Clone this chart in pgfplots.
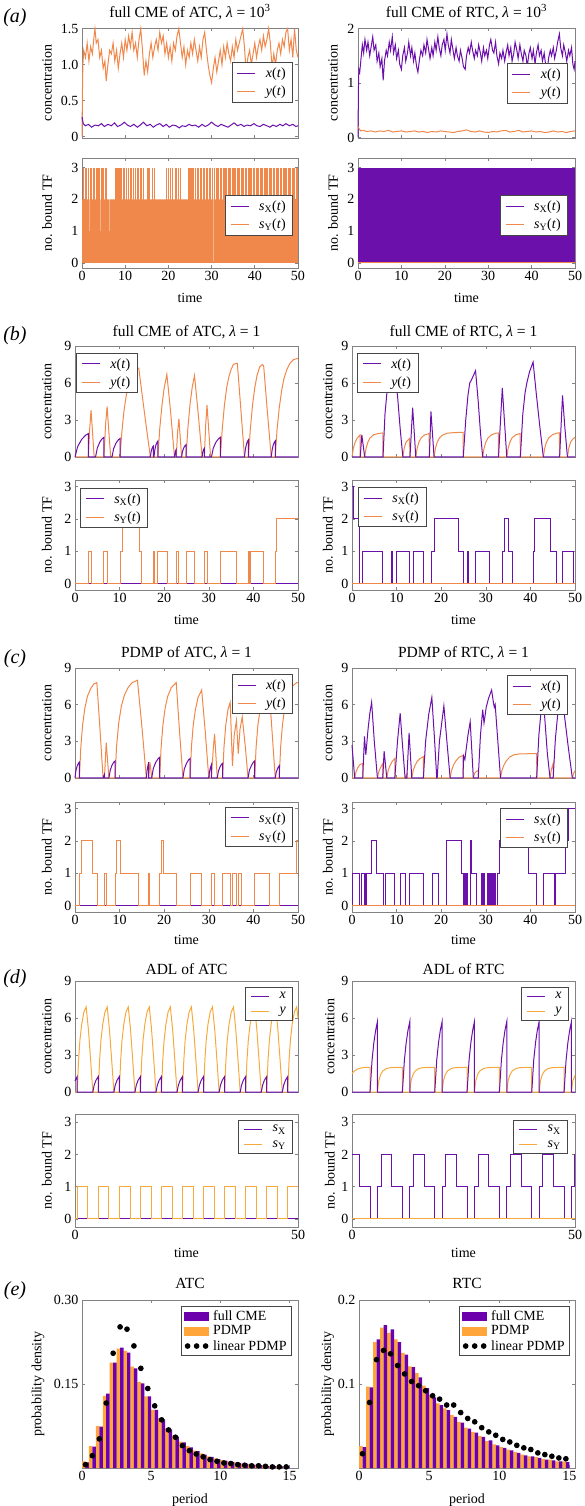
\documentclass[border=0pt]{standalone}
\usepackage{fontspec}
\setmainfont{Liberation Serif}
\usepackage{pgfplots}
\pgfplotsset{compat=1.18}
\definecolor{cpurple}{RGB}{108,16,172}
\definecolor{corange}{RGB}{240,135,75}
\definecolor{corangeb}{RGB}{246,170,62}
\definecolor{hpurple}{RGB}{108,0,172}
\definecolor{horange}{RGB}{255,165,58}
\definecolor{framegray}{RGB}{130,130,130}
\definecolor{leggray}{RGB}{70,70,70}
\pgfplotsset{
  base/.style={scale only axis, anchor=north west, clip=false,
    axis line style={draw=framegray, line width=0.8pt},
    tick style={draw=framegray, line width=0.6pt},
    major tick length=3pt,
    tick label style={font=\fontsize{14}{16}\selectfont},
    title style={font=\fontsize{15.5}{18}\selectfont},
    legend style={font=\fontsize{14}{16}\selectfont, draw=leggray, line width=0.7pt, fill=white, inner xsep=5pt, inner ysep=3pt, row sep=3pt,
      /tikz/every odd column/.append style={column sep=8pt}},
    legend cell align=left,
    legend image code/.code={\draw[##1] (0pt,0pt) -- (18pt,0pt);},
    /pgf/number format/assume math mode=true,
    every axis plot/.append style={line width=1pt},
  },
  yl/.style={every axis y label/.style={at={(axis description cs:#1,0.5)},rotate=90,anchor=center,font=\fontsize{14}{16}\selectfont}},
  xl/.style={every axis x label/.style={at={(axis description cs:0.5,#1)},anchor=center,font=\fontsize{14}{16}\selectfont}},
  tstop/.style={base, xmin=0, xmax=50, xtick={0,10,20,30,40,50}, xticklabels={}, ylabel={concentration}},
  tsbot/.style={base, xmin=0, xmax=50, xtick={0,10,20,30,40,50}, ylabel={no. bound TF}, xlabel={time}, ytick={0,1,2,3}},
}
\newcommand{\xt}{\textit{x}(\textit{t})}
\newcommand{\yt}{\textit{y}(\textit{t})}
\newcommand{\sxt}{\textit{s}\textsubscript{X}(\textit{t})}
\newcommand{\syt}{\textit{s}\textsubscript{Y}(\textit{t})}
\newcommand{\LP}{\addlegendimage{draw=cpurple, line width=1pt}}
\newcommand{\LO}{\addlegendimage{draw=corange, line width=1pt}}
\newcommand{\LOb}{\addlegendimage{draw=corangeb, line width=1pt}}
\begin{document}
\begin{tikzpicture}
% ================= (a) =================
\begin{axis}[tstop, at={(82pt,-28pt)}, width=216pt, height=110pt, ymin=-0.02, ymax=1.51,
  ytick={0,0.5,1,1.5}, yticklabels={0,0.5,1.0,1.5}, yl=-0.162,
  title={full CME of ATC, \textit{λ} = 10\textsuperscript{3}}, title style={yshift=-1pt},
  legend style={at={(0.977,0.69)},anchor=north east}]
\addplot[corange, forget plot] coordinates {(0,0)(0.1,0.6)(0.2,1.0)(0.4,1.2)(0.8,1.1)(1.2,1.3)(1.6,1.05)(2.0,1.25)(2.4,1.15)(2.8,1.4)(3.0,1.5)(3.3,1.3)(3.7,1.35)(4.1,1.1)(4.5,1.2)(4.9,0.95)(5.3,1.05)(5.6,0.77)(6.0,1.0)(6.4,1.2)(6.8,1.15)(7.2,1.3)(7.6,1.05)(8.0,1.2)(8.4,0.95)(8.8,1.15)(9.2,1.3)(9.6,1.1)(10.0,1.35)(10.4,1.2)(10.8,1.4)(11.2,1.25)(11.6,1.45)(12.0,1.2)(12.4,1.3)(12.8,1.1)(13.2,1.35)(13.6,1.5)(14.0,1.2)(14.4,0.85)(14.8,1.05)(15.2,0.9)(15.6,1.15)(16.0,1.3)(16.4,1.1)(16.8,1.25)(17.2,1.35)(17.6,1.2)(18.0,1.45)(18.4,1.3)(18.8,1.4)(19.2,1.15)(19.6,1.3)(20.0,1.1)(20.4,1.25)(20.8,1.05)(21.2,1.3)(21.6,1.2)(22.0,1.4)(22.4,1.5)(22.8,1.3)(23.2,1.1)(23.6,1.25)(24.0,1.0)(24.4,1.2)(24.8,1.1)(25.2,1.3)(25.6,1.15)(26.0,1.35)(26.4,1.2)(26.8,1.05)(27.2,1.25)(27.6,1.1)(28.0,1.35)(28.4,1.45)(28.8,1.2)(29.2,1.0)(29.6,0.85)(30.0,0.75)(30.4,0.95)(30.8,1.1)(31.2,0.9)(31.6,1.05)(32.0,1.2)(32.4,1.0)(32.8,1.25)(33.2,1.1)(33.6,1.3)(34.0,1.15)(34.4,1.05)(34.8,1.25)(35.2,1.1)(35.6,1.35)(36.0,1.2)(36.4,1.3)(36.8,1.4)(37.2,1.5)(37.6,1.25)(38.0,0.9)(38.4,1.1)(38.8,1.2)(39.2,1.0)(39.6,1.15)(40.0,1.3)(40.4,1.1)(40.8,1.25)(41.2,1.35)(41.6,1.2)(42.0,1.4)(42.4,1.25)(42.8,1.35)(43.2,1.5)(43.6,1.3)(44.0,0.95)(44.4,1.15)(44.8,1.0)(45.2,1.2)(45.6,1.3)(46.0,1.15)(46.4,1.35)(46.8,1.25)(47.2,1.45)(47.6,1.5)(48.0,1.2)(48.4,1.35)(48.8,1.1)(49.2,1.5)(49.6,1.2)(50,1.1)};
\addplot[cpurple, forget plot] coordinates {(0,0.27)(0.3,0.18)(0.8,0.15)(1.5,0.17)(2.2,0.13)(3,0.16)(3.8,0.15)(4.5,0.18)(5.2,0.14)(6,0.17)(6.8,0.15)(7.5,0.19)(8.2,0.14)(9,0.16)(9.8,0.2)(10.5,0.16)(11.2,0.14)(12,0.17)(12.8,0.13)(13.5,0.16)(14.2,0.2)(15,0.15)(15.8,0.17)(16.5,0.13)(17.2,0.16)(18,0.18)(18.8,0.14)(19.5,0.17)(20.2,0.13)(21,0.16)(21.8,0.15)(22.5,0.12)(23.2,0.15)(24,0.14)(24.8,0.17)(25.5,0.15)(26.2,0.16)(27,0.13)(27.8,0.17)(28.5,0.14)(29.2,0.16)(30,0.2)(30.8,0.16)(31.5,0.14)(32.2,0.17)(33,0.15)(33.8,0.13)(34.5,0.16)(35.2,0.19)(36,0.15)(36.8,0.17)(37.5,0.14)(38.2,0.16)(39,0.15)(39.8,0.18)(40.5,0.15)(41.2,0.14)(42,0.17)(42.8,0.15)(43.5,0.13)(44.2,0.16)(45,0.14)(45.8,0.17)(46.5,0.15)(47.2,0.18)(48,0.15)(48.8,0.17)(49.5,0.14)(50,0.15)};
\LP\addlegendentry{\xt}
\LO\addlegendentry{\yt}
\end{axis}

\begin{axis}[tsbot, at={(82pt,-158pt)}, width=216pt, height=110pt, ymin=-0.16, ymax=3.3, yl=-0.162, xl=-0.27,
  legend style={at={(0.977,0.66)},anchor=north east}]
\addplot[cpurple, forget plot] coordinates {(0,0)(50,0)};
\addplot[const plot, fill=corange, draw=none, forget plot] coordinates {(0,0)(0,2)(1.65,1)(1.75,2)(4.15,1)(4.25,2)(6.35,1)(6.45,2)(30.35,0)(30.45,2)(50,2)(50,0)};
\addplot[ycomb, corange, line width=0.6pt, forget plot] coordinates {(0.4,3)(0.7,3)(1.0,3)(1.4,3)(1.9,3)(2.2,3)(2.5,3)(2.9,3)(3.2,3)(3.5,3)(3.8,3)(4.1,3)(4.5,3)(4.8,3)(5.0,3)(5.3,3)(5.6,3)(7.7,3)(7.8,3)(7.9,3)(8.0,3)(8.1,3)(8.2,3)(8.3,3)(8.5,3)(8.6,3)(8.8,3)(9.0,3)(9.5,3)(9.8,3)(10.2,3)(10.8,3)(11.1,3)(11.2,3)(11.3,3)(11.4,3)(11.5,3)(11.9,3)(12.3,3)(12.7,3)(13.1,3)(13.5,3)(13.8,3)(14.2,3)(15.0,3)(15.3,3)(15.6,3)(16.2,3)(16.7,3)(19.6,3)(20.0,3)(20.4,3)(21.0,3)(21.5,3)(21.9,3)(22.3,3)(22.7,3)(24.6,3)(24.8,3)(24.9,3)(25.0,3)(25.1,3)(25.3,3)(25.4,3)(25.6,3)(25.8,3)(26.2,3)(26.6,3)(27.0,3)(27.3,3)(27.7,3)(28.1,3)(28.4,3)(28.7,3)(29.1,3)(29.5,3)(29.8,3)(30.2,3)(30.7,3)(31.0,3)(31.3,3)(31.6,3)(31.9,3)(32.3,3)(32.6,3)(32.9,3)(33.2,3)(33.5,3)(33.8,3)(34.1,3)(34.4,3)(34.7,3)(35.0,3)(35.3,3)(35.6,3)(35.9,3)(36.2,3)(36.5,3)(36.8,3)(37.1,3)(37.4,3)(37.7,3)(38.0,3)(38.4,3)(38.7,3)(39.0,3)(39.3,3)(39.6,3)(39.9,3)(40.3,3)(40.6,3)(40.9,3)(41.2,3)(41.5,3)(41.8,3)(42.1,3)(42.4,3)(42.7,3)(43.0,3)(43.3,3)(43.6,3)(43.9,3)(44.2,3)(44.6,3)(44.9,3)(45.2,3)(45.5,3)(45.8,3)(46.1,3)(46.5,3)(46.8,3)(47.1,3)(47.4,3)(47.7,3)(48.0,3)(48.3,3)(48.6,3)(48.9,3)(49.2,3)(49.5,3)(49.8,3)};
\LP\addlegendentry{\sxt}
\LO\addlegendentry{\syt}
\end{axis}

\begin{axis}[tstop, at={(358pt,-28pt)}, width=217pt, height=110pt, ymin=-0.01, ymax=2.01,
  ytick={0,1,2}, yl=-0.115,
  title={full CME of RTC, \textit{λ} = 10\textsuperscript{3}}, title style={yshift=-1pt},
  legend style={at={(0.968,0.68)},anchor=north east}]
\addplot[cpurple, forget plot] coordinates {(0,0)(0.1,0.9)(0.2,1.25)(0.4,1.2)(0.7,1.45)(1.0,1.7)(1.3,1.55)(1.6,1.8)(2.0,1.6)(2.3,1.75)(2.7,1.5)(3.0,1.65)(3.4,1.85)(3.7,1.6)(4.1,1.7)(4.4,1.4)(4.8,1.55)(5.1,1.3)(5.5,1.45)(5.8,1.05)(6.1,1.4)(6.5,1.6)(6.8,1.5)(7.2,1.75)(7.5,1.6)(7.9,1.85)(8.2,1.55)(8.6,1.7)(8.9,1.45)(9.3,1.6)(9.6,1.35)(10.0,1.25)(10.3,1.5)(10.7,1.65)(11.0,1.4)(11.4,1.55)(11.7,1.75)(12.1,1.5)(12.4,1.65)(12.8,1.4)(13.1,1.55)(13.5,1.3)(13.8,1.2)(14.2,1.45)(14.5,1.6)(14.9,1.5)(15.2,1.7)(15.6,1.55)(15.9,1.8)(16.3,1.6)(16.6,1.45)(17.0,1.65)(17.3,1.5)(17.7,1.75)(18.0,1.6)(18.4,1.85)(18.7,1.65)(19.1,1.5)(19.4,1.7)(19.8,1.8)(20.1,1.6)(20.5,1.9)(20.8,1.7)(21.2,1.55)(21.5,1.8)(21.9,1.6)(22.2,1.45)(22.6,1.65)(22.9,1.5)(23.3,1.4)(23.6,1.6)(24.0,1.45)(24.3,1.3)(24.7,1.25)(25.0,1.5)(25.4,1.65)(25.7,1.55)(26.1,1.75)(26.4,1.6)(26.8,1.45)(27.1,1.6)(27.5,1.5)(27.8,1.7)(28.2,1.55)(28.5,1.4)(28.9,1.65)(29.2,1.5)(29.6,1.6)(29.9,1.45)(30.3,1.7)(30.6,1.8)(31.0,1.6)(31.3,1.55)(31.7,1.75)(32.0,1.5)(32.4,1.35)(32.7,1.55)(33.1,1.45)(33.4,1.6)(33.8,1.4)(34.1,1.55)(34.5,1.7)(34.8,1.5)(35.2,1.65)(35.5,1.4)(35.9,1.55)(36.2,1.75)(36.6,1.6)(36.9,1.45)(37.3,1.7)(37.6,1.55)(38.0,1.4)(38.3,1.6)(38.7,1.5)(39.0,1.3)(39.4,1.55)(39.7,1.65)(40.1,1.45)(40.4,1.6)(40.8,1.35)(41.1,1.55)(41.5,1.7)(41.8,1.5)(42.2,1.6)(42.5,1.4)(42.9,1.55)(43.2,1.35)(43.6,1.2)(43.9,1.45)(44.3,1.6)(44.6,1.5)(45.0,1.65)(45.3,1.45)(45.7,1.6)(46.0,1.75)(46.4,1.9)(46.7,1.65)(47.1,1.5)(47.4,1.7)(47.8,1.55)(48.1,1.4)(48.5,1.6)(48.8,1.5)(49.2,1.65)(49.5,1.35)(49.8,1.25)(50,1.4)};
\addplot[corange, forget plot] coordinates {(0,0.2)(0.2,0.17)(0.6,0.12)(1.2,0.13)(2,0.11)(3,0.12)(4,0.1)(5,0.12)(6,0.11)(7,0.13)(8,0.1)(9,0.11)(10,0.12)(11,0.1)(12,0.11)(13,0.12)(14,0.1)(15,0.11)(16,0.09)(17,0.11)(18,0.1)(19,0.12)(20,0.11)(21,0.1)(22,0.09)(23,0.11)(24,0.12)(25,0.14)(26,0.11)(27,0.1)(28,0.12)(29,0.1)(30,0.09)(31,0.11)(32,0.1)(33,0.12)(34,0.13)(35,0.1)(36,0.11)(37,0.13)(38,0.1)(39,0.11)(40,0.12)(41,0.1)(42,0.11)(43,0.09)(44,0.1)(45,0.12)(46,0.1)(47,0.11)(48,0.09)(49,0.11)(50,0.12)};
\LP\addlegendentry{\xt}
\LO\addlegendentry{\yt}
\end{axis}

\begin{axis}[tsbot, at={(358pt,-158pt)}, width=217pt, height=110pt, ymin=-0.16, ymax=3.3, yl=-0.115, xl=-0.27,
  legend style={at={(0.968,0.66)},anchor=north east}]
\addplot[fill=cpurple, draw=none, forget plot] coordinates {(0,0)(0,3)(50,3)(50,0)};
\addplot[corange, forget plot] coordinates {(0,0)(50,0)};
\LP\addlegendentry{\sxt}
\LO\addlegendentry{\syt}
\end{axis}

% ================= (b) =================
\begin{axis}[tstop, at={(75pt,-346pt)}, width=223pt, height=111pt, ymin=0, ymax=9,
  ytick={0,3,6,9}, yl=-0.126,
  title={full CME of ATC, \textit{λ} = 1}, title style={yshift=-2pt},
  legend style={at={(0.005,0.937)},anchor=north west}]
\addplot[corange, forget plot] coordinates {(0,0)(3.0,0)(3.3,2.3)(3.6,3.8)(3.95,1.9)(4.3,0)(6.5,0)(6.85,2.6)(7.2,4.1)(7.6,2.0)(8.0,0)(10.1,0)(10.5,2)(11,3.8)(11.5,5.0)(12,5.9)(12.5,6.5)(13,6.9)(13.5,7.1)(14.0,7.2)(14.3,7.2)(15.0,5.2)(16,2.4)(16.9,0)(18.6,0)(19.0,2.3)(19.5,4.2)(20.0,5.6)(20.6,6.7)(21.4,3.8)(22.3,0)(22.7,0)(23.0,2.0)(23.3,3.1)(23.9,0)(24.9,0)(25.3,2.3)(25.8,4.3)(26.3,5.7)(26.8,6.6)(27.6,3.6)(28.5,0)(29.0,0)(29.3,2.6)(29.6,4.2)(30.4,0)(32.6,0)(33.0,2.2)(33.5,4.2)(34,5.6)(34.5,6.5)(35,7.1)(35.5,7.5)(36.2,7.6)(36.4,7.6)(37.2,3.8)(38.0,0)(38.9,0)(39.3,2.2)(39.8,4.2)(40.3,5.6)(40.8,6.6)(41.4,7.3)(42.0,7.5)(42.3,7.4)(43.1,3.8)(44.0,0)(44.9,0)(45.3,2.2)(45.8,4.0)(46.3,5.3)(46.8,6.3)(47.5,7.1)(48.2,7.6)(49,7.9)(50,8.0)};
\addplot[cpurple, forget plot] coordinates {(0,0)(0.6,0.85)(1.5,1.43)(2.4,1.77)(3.0,1.9)(3.0,0)(4.6,0)(5.0,0.72)(5.55,1.2)(6.1,1.49)(6.5,1.6)(6.5,0)(8.3,0)(8.66,0.68)(9.2,1.13)(9.74,1.4)(10.1,1.5)(10.1,0)(16.9,0)(17.05,0.4)(17.25,0.68)(17.45,0.84)(17.6,0.9)(17.6,0)(17.7,0)(17.9,0.58)(18.15,0.98)(18.4,1.2)(18.6,1.3)(18.6,0)(22.3,0)(22.4,0.3)(22.55,0.5)(22.7,0.6)(22.7,0)(23.9,0)(24.1,0.45)(24.4,0.75)(24.7,0.93)(24.9,1.0)(24.9,0)(28.5,0)(28.6,0.32)(28.75,0.53)(28.9,0.65)(29.0,0.7)(29.0,0)(30.6,0)(31.0,0.72)(31.6,1.2)(32.2,1.49)(32.6,1.6)(32.6,0)(38.0,0)(38.2,0.63)(38.45,1.05)(38.7,1.3)(38.9,1.4)(38.9,0)(44.0,0)(44.2,0.58)(44.45,0.98)(44.7,1.2)(44.9,1.3)(44.9,0)(50,0)};
\LP\addlegendentry{\xt}
\LO\addlegendentry{\yt}
\end{axis}

\begin{axis}[tsbot, at={(75pt,-480pt)}, width=223pt, height=110pt, ymin=-0.2, ymax=3.2, yl=-0.126, xl=-0.27,
  legend style={at={(0.022,0.927)},anchor=north west}]
\addplot[cpurple, forget plot] coordinates {(0,0)(50,0)};
\addplot[const plot, corange, forget plot] coordinates {(0,0)(3.0,1)(3.6,0)(6.5,1)(7.3,0)(10.1,1)(10.6,2)(14.5,1)(14.9,0)(17.6,1)(17.75,0)(18.6,1)(20.8,0)(22.7,1)(23.3,0)(24.9,1)(26.8,0)(29.0,1)(29.6,0)(32.6,1)(36.2,0)(38.9,1)(39.15,0)(39.3,1)(42.2,0)(44.9,1)(45.2,2)(50,2)};
\LP\addlegendentry{\sxt}
\LO\addlegendentry{\syt}
\end{axis}

\begin{axis}[tstop, at={(352pt,-346pt)}, width=223pt, height=111pt, ymin=0, ymax=9,
  ytick={0,3,6,9}, yl=-0.108,
  title={full CME of RTC, \textit{λ} = 1}, title style={yshift=-2pt},
  legend style={at={(0.022,0.937)},anchor=north west}]
\addplot[corange, forget plot] coordinates {(0,0)(0.3,0.7)(0.7,1.2)(1.2,1.55)(1.8,1.78)(1.85,0)(2.85,0)(3.15,0.7)(3.55,1.2)(4.05,1.55)(4.85,1.8)(5.85,1.9)(6.9,1.95)(6.95,0)(11.4,0)(11.7,0.7)(12.1,1.2)(12.9,1.5)(13.0,0)(14.3,0)(14.6,0.7)(15.0,1.2)(15.5,1.55)(16.3,1.8)(17.3,1.9)(17.35,0)(18.4,0)(18.7,0.7)(19.1,1.2)(19.6,1.55)(20.4,1.8)(21.4,1.93)(23,1.98)(24.9,2.0)(24.95,0)(29.3,0)(29.6,0.7)(30.0,1.2)(30.5,1.55)(31.3,1.8)(32.3,1.93)(32.8,1.95)(32.85,0)(34.7,0)(35.0,0.7)(35.4,1.2)(35.9,1.55)(36.7,1.8)(37.7,1.9)(37.75,0)(42.9,0)(43.2,0.7)(43.6,1.2)(44.1,1.55)(44.9,1.8)(45.9,1.93)(46.5,1.96)(46.55,0)(48.3,0)(48.6,0.7)(49.0,1.2)(49.5,1.45)(50,1.6)};
\addplot[cpurple, forget plot] coordinates {(0,0)(1.85,0)(2.2,1.8)(2.85,0)(6.95,0)(7.4,3.5)(7.9,5.5)(8.5,6.8)(9.0,7.3)(9.5,6.8)(10.2,5.0)(10.8,2.3)(11.4,0)(13.0,0)(13.6,4.0)(14.3,0)(17.35,0)(17.7,3.7)(18.4,0)(24.95,0)(25.5,3.0)(26.0,5.0)(26.4,6.0)(26.7,6.2)(27.1,6.5)(27.7,7.0)(28.3,4.5)(28.8,2.0)(29.3,0)(32.85,0)(33.7,5.6)(34.2,2.8)(34.7,0)(37.75,0)(38.3,3.5)(38.8,5.2)(39.2,6.0)(39.8,6.9)(40.6,7.7)(41.3,5.2)(42.1,2.5)(42.9,0)(46.55,0)(47.2,5.0)(47.7,2.5)(48.3,0)(50,0)};
\LP\addlegendentry{\xt}
\LO\addlegendentry{\yt}
\end{axis}

\begin{axis}[tsbot, at={(352pt,-480pt)}, width=223pt, height=110pt, ymin=-0.2, ymax=3.2, yl=-0.108, xl=-0.27,
  legend style={at={(0.027,0.936)},anchor=north west}]
\addplot[const plot, cpurple, forget plot] coordinates {(0,3)(0.3,2)(1.7,0)(2.4,1)(6.9,0)(8.9,1)(9.1,0)(9.9,1)(13.0,0)(13.7,1)(16.0,0)(17.9,1)(18.4,2)(23.9,1)(25.0,0)(26.0,1)(26.2,0)(27.6,1)(30.9,0)(33.7,1)(34.1,2)(35.1,1)(36.0,0)(40.7,1)(41.0,2)(44.4,1)(45.9,0)(47.2,1)(49.6,0)(50,0)};
\addplot[corange, forget plot] coordinates {(0,0)(50,0)};
\LP\addlegendentry{\sxt}
\LO\addlegendentry{\syt}
\end{axis}

% ================= (c) =================
\begin{axis}[tstop, at={(75pt,-668pt)}, width=223pt, height=110pt, ymin=0, ymax=9,
  ytick={0,3,6,9}, yl=-0.126,
  title={PDMP of ATC, \textit{λ} = 1}, title style={yshift=-1pt},
  legend style={at={(0.978,0.945)},anchor=north east}]
\addplot[corange, forget plot] coordinates {(0,0)(1.0,0)(1.3,2.5)(1.7,4.3)(2.2,5.7)(2.8,6.7)(3.5,7.3)(4.2,7.7)(4.9,7.8)(5.6,4.0)(6.3,0)(6.6,0)(7.0,2.9)(7.6,0)(9.0,0)(9.3,2.5)(9.8,4.5)(10.4,5.9)(11.1,6.8)(11.9,7.4)(12.8,7.8)(14.0,8.0)(15.0,4.2)(16.0,0)(16.5,0)(16.8,1.3)(17.2,0)(19.0,0)(19.3,2.5)(19.7,4.3)(20.2,5.7)(20.8,6.7)(21.6,7.4)(22.7,7.8)(23.4,4.0)(24.2,0)(25.8,0)(26.1,2.5)(26.5,4.3)(27.0,5.6)(27.6,6.6)(28.4,7.2)(29.2,3.8)(30.0,0)(30.6,0)(31.0,2.4)(31.3,3.6)(31.9,0)(33.1,0)(33.4,2.5)(33.8,4.3)(34.3,5.6)(34.8,6.2)(35.3,1.0)(35.7,3.5)(36.2,4.7)(36.6,2.0)(37.0,4.0)(37.5,5.0)(38.2,2.5)(38.8,0)(40.3,0)(40.6,2.5)(41.0,4.3)(41.5,5.6)(42.1,6.6)(42.8,7.2)(43.5,7.4)(44.2,3.7)(44.9,0)(45.8,0)(46.1,2.5)(46.5,4.3)(47.0,5.7)(47.6,6.7)(48.3,7.3)(49.0,7.6)(49.7,7.8)(50,7.8)};
\addplot[cpurple, forget plot] coordinates {(0,0)(0.2,0.6)(0.5,1.0)(0.8,1.22)(1.0,1.3)(1.0,0)(6.3,0)(6.45,0.2)(6.6,0.3)(6.6,0)(7.6,0)(7.9,0.63)(8.3,1.05)(8.7,1.3)(9.0,1.4)(9.0,0)(16.0,0)(16.15,0.6)(16.35,1.0)(16.5,1.3)(16.5,0)(17.2,0)(17.55,0.77)(18.1,1.28)(18.65,1.58)(19.0,1.7)(19.0,0)(24.2,0)(24.5,0.72)(25.0,1.2)(25.5,1.5)(25.8,1.6)(25.8,0)(30.0,0)(30.15,0.5)(30.35,0.85)(30.6,1.1)(30.6,0)(31.9,0)(32.15,0.55)(32.5,0.9)(32.85,1.12)(33.1,1.2)(33.1,0)(38.8,0)(39.1,0.63)(39.6,1.05)(40.0,1.3)(40.3,1.4)(40.3,0)(44.9,0)(45.1,0.45)(45.4,0.75)(45.65,0.93)(45.8,1.0)(45.8,0)(50,0)};
\LP\addlegendentry{\xt}
\LO\addlegendentry{\yt}
\end{axis}

\begin{axis}[tsbot, at={(75pt,-802pt)}, width=223pt, height=110pt, ymin=-0.2, ymax=3.2, yl=-0.126, xl=-0.255,
  legend style={at={(0.978,0.955)},anchor=north east}]
\addplot[cpurple, forget plot] coordinates {(0,0)(50,0)};
\addplot[const plot, corange, forget plot] coordinates {(0,0)(1.0,1)(1.5,2)(4.0,1)(5.0,0)(6.6,1)(7.0,0)(9.0,1)(9.4,2)(10.1,1)(14.2,0)(16.5,1)(16.8,0)(19.0,1)(19.3,2)(19.8,1)(22.7,0)(25.8,1)(28.4,0)(30.6,1)(31.3,0)(33.1,1)(34.8,0)(35.3,1)(36.2,0)(36.6,1)(37.4,0)(40.3,1)(43.5,0)(45.8,1)(49.7,2)(50,2)};
\LP\addlegendentry{\sxt}
\LO\addlegendentry{\syt}
\end{axis}

\begin{axis}[tstop, at={(352pt,-668pt)}, width=223pt, height=110pt, ymin=0, ymax=9,
  ytick={0,3,6,9}, yl=-0.108,
  title={PDMP of RTC, \textit{λ} = 1}, title style={yshift=-1pt},
  legend style={at={(0.969,0.936)},anchor=north east}]
\addplot[corange, forget plot] coordinates {(0,0)(0.6,0)(0.9,0.5)(1.3,0.85)(1.8,1.1)(2.4,1.2)(2.45,0)(5.7,0)(6.0,0.5)(6.4,0.85)(6.9,1.2)(6.95,0)(7.8,0)(8.1,0.6)(8.5,1.0)(9.0,1.35)(9.6,1.6)(9.65,0)(11.9,0)(12.2,0.3)(12.3,0.35)(12.35,0)(13.4,0)(13.7,0.6)(14.1,1.0)(14.6,1.35)(15.3,1.6)(16.0,1.75)(16.05,0)(22.0,0)(22.3,0.6)(22.7,1.0)(23.2,1.35)(24.0,1.7)(24.9,1.85)(24.95,0)(27.2,0)(27.5,0.4)(27.9,0.55)(28.3,0.6)(28.35,0)(33.3,0)(33.6,0.6)(34.0,1.0)(34.5,1.35)(35.3,1.7)(36.3,1.9)(37.5,1.97)(41.4,2.0)(41.45,0)(44.4,0)(44.7,0.7)(45.1,1.2)(45.15,0)(49.4,0)(49.7,0.4)(50,0.6)};
\addplot[cpurple, forget plot] coordinates {(0,2.7)(0.6,0)(2.4,0)(2.8,3.4)(3.1,1.9)(3.6,4.0)(4.0,5.3)(4.4,6.2)(5.0,3.0)(5.7,0)(6.9,0)(7.2,2.2)(7.8,0)(9.6,0)(10.2,3.0)(10.8,5.3)(11.3,2.8)(11.9,0)(12.3,0)(12.8,3.7)(13.4,0)(16.0,0)(16.5,3.0)(17.2,5.2)(17.9,6.6)(18.5,3.2)(19.0,0)(19.1,0)(19.6,3.0)(20.6,5.9)(21.3,2.9)(22.0,0)(24.9,0)(25.0,1.8)(25.3,1.5)(26.0,3.5)(26.5,4.6)(26.9,2.0)(27.2,0)(28.3,0)(28.8,3.5)(29.3,5.6)(29.6,4.5)(30.1,5.8)(30.6,6.5)(31.3,7.2)(31.7,6.2)(31.9,5.8)(32.1,6.0)(32.7,3.0)(33.3,0)(41.4,0)(41.9,3.5)(42.4,5.5)(42.8,6.0)(43.2,5.0)(43.8,2.0)(44.4,0)(45.1,0)(45.6,3.2)(46.2,5.5)(46.8,6.3)(47.5,5.5)(48.5,2.5)(49.4,0)(50,0)};
\LP\addlegendentry{\xt}
\LO\addlegendentry{\yt}
\end{axis}

\begin{axis}[tsbot, at={(352pt,-802pt)}, width=223pt, height=110pt, ymin=-0.2, ymax=3.2, yl=-0.108, xl=-0.255,
  legend style={at={(0.969,0.945)},anchor=north east}]
\addplot[const plot, cpurple, forget plot] coordinates {(0,0)(0.1,1)(1.6,0)(2.2,1)(2.7,0)(2.9,1)(3.1,0)(3.3,1)(4.4,2)(5.4,1)(7.0,0)(7.4,1)(9.6,0)(10.8,1)(12.1,0)(12.8,1)(16.1,0)(18.1,1)(19.4,0)(21.1,2)(24.6,1)(25.0,0)(25.2,1)(25.4,0)(25.6,1)(25.8,0)(26.5,2)(26.8,1)(27.9,0)(29.0,1)(29.2,0)(29.4,1)(29.6,0)(30.4,1)(30.6,0)(30.9,1)(31.0,0)(31.2,1)(31.4,0)(31.6,1)(31.8,0)(32.0,1)(32.2,0)(32.6,1)(33.0,2)(39.6,1)(41.4,0)(42.9,1)(45.4,0)(45.6,1)(47.9,2)(48.5,3)(50,3)};
\addplot[corange, forget plot] coordinates {(0,0)(50,0)};
\LP\addlegendentry{\sxt}
\LO\addlegendentry{\syt}
\end{axis}

% ================= (d) =================
\begin{axis}[tstop, at={(75pt,-981pt)}, width=223pt, height=111pt, ymin=0, ymax=9, xtick={0,50},
  ytick={0,3,6,9}, yl=-0.126,
  title={ADL of ATC}, title style={yshift=-3pt},
  legend style={at={(0.978,0.946)},anchor=north east}]
\addplot[corangeb, forget plot] coordinates {(0,0)(0.5,0)(0.8,2.6)(1.1,4.2)(1.5,5.5)(2.0,6.5)(2.5,6.9)(3.0,5.1)(3.5,2.6)(4.0,0)(5.22,0)(5.52,2.6)(5.82,4.2)(6.22,5.5)(6.72,6.5)(7.22,6.9)(7.72,5.1)(8.22,2.6)(8.72,0)(9.94,0)(10.24,2.6)(10.54,4.2)(10.94,5.5)(11.44,6.5)(11.94,6.9)(12.44,5.1)(12.94,2.6)(13.44,0)(14.66,0)(14.96,2.6)(15.26,4.2)(15.66,5.5)(16.16,6.5)(16.66,6.9)(17.16,5.1)(17.66,2.6)(18.16,0)(19.38,0)(19.68,2.6)(19.98,4.2)(20.38,5.5)(20.88,6.5)(21.38,6.9)(21.88,5.1)(22.38,2.6)(22.88,0)(24.10,0)(24.40,2.6)(24.70,4.2)(25.10,5.5)(25.60,6.5)(26.10,6.9)(26.60,5.1)(27.10,2.6)(27.60,0)(28.82,0)(29.12,2.6)(29.42,4.2)(29.82,5.5)(30.32,6.5)(30.82,6.9)(31.32,5.1)(31.82,2.6)(32.32,0)(33.54,0)(33.84,2.6)(34.14,4.2)(34.54,5.5)(35.04,6.5)(35.54,6.9)(36.04,5.1)(36.54,2.6)(37.04,0)(38.26,0)(38.56,2.6)(38.86,4.2)(39.26,5.5)(39.76,6.5)(40.26,6.9)(40.76,5.1)(41.26,2.6)(41.76,0)(42.98,0)(43.28,2.6)(43.58,4.2)(43.98,5.5)(44.48,6.5)(44.98,6.9)(45.48,5.1)(45.98,2.6)(46.48,0)(47.70,0)(48.00,2.6)(48.30,4.2)(48.70,5.5)(49.20,6.5)(49.70,6.9)(50,6.0)};
\addplot[cpurple, forget plot] coordinates {(0,0.9)(0.25,1.1)(0.5,1.25)(0.5,0)(4.0,0)(4.3,0.55)(4.7,0.95)(5.22,1.25)(5.22,0)(8.72,0)(9.02,0.55)(9.42,0.95)(9.94,1.25)(9.94,0)(13.44,0)(13.74,0.55)(14.14,0.95)(14.66,1.25)(14.66,0)(18.16,0)(18.46,0.55)(18.86,0.95)(19.38,1.25)(19.38,0)(22.88,0)(23.18,0.55)(23.58,0.95)(24.10,1.25)(24.10,0)(27.60,0)(27.90,0.55)(28.30,0.95)(28.82,1.25)(28.82,0)(32.32,0)(32.62,0.55)(33.02,0.95)(33.54,1.25)(33.54,0)(37.04,0)(37.34,0.55)(37.74,0.95)(38.26,1.25)(38.26,0)(41.76,0)(42.06,0.55)(42.46,0.95)(42.98,1.25)(42.98,0)(46.48,0)(46.78,0.55)(47.18,0.95)(47.70,1.25)(47.70,0)(50,0)};
\LP\addlegendentry{\textit{x}}
\LOb\addlegendentry{\textit{y}}
\end{axis}

\begin{axis}[tsbot, at={(75pt,-1114pt)}, width=223pt, height=113pt, ymin=-0.25, ymax=3.25, xtick={0,50}, yl=-0.126, xl=-0.227,
  legend style={at={(0.978,0.947)},anchor=north east}]
\addplot[cpurple, forget plot] coordinates {(0,0)(50,0)};
\addplot[const plot, corangeb, forget plot] coordinates {(0,0)(0.5,1)(2.9,0)(5.22,1)(7.62,0)(9.94,1)(12.34,0)(14.66,1)(17.06,0)(19.38,1)(21.78,0)(24.10,1)(26.50,0)(28.82,1)(31.22,0)(33.54,1)(35.94,0)(38.26,1)(40.66,0)(42.98,1)(45.38,0)(47.70,1)(50,1)};
\LP\addlegendentry{\textit{s}\textsubscript{X}}
\LOb\addlegendentry{\textit{s}\textsubscript{Y}}
\end{axis}

\begin{axis}[tstop, at={(352pt,-981pt)}, width=223pt, height=111pt, ymin=0, ymax=9, xtick={0,50},
  ytick={0,3,6,9}, yl=-0.099,
  title={ADL of RTC}, title style={yshift=-3pt},
  legend style={at={(0.973,0.946)},anchor=north east}]
\addplot[corangeb, forget plot] coordinates {(0,1.5)(0.5,1.7)(1.2,1.85)(2.0,1.95)(3.0,1.99)(4.05,2.0)(4.05,0)(5.7,0)(6.0,0.9)(6.4,1.4)(6.9,1.7)(7.7,1.9)(8.7,1.98)(11.3,2.0)(11.3,0)(12.95,0)(13.25,0.9)(13.65,1.4)(14.15,1.7)(14.95,1.9)(15.95,1.98)(18.55,2.0)(18.55,0)(20.2,0)(20.5,0.9)(20.9,1.4)(21.4,1.7)(22.2,1.9)(23.2,1.98)(25.8,2.0)(25.8,0)(27.45,0)(27.75,0.9)(28.15,1.4)(28.65,1.7)(29.45,1.9)(30.45,1.98)(33.05,2.0)(33.05,0)(34.7,0)(35.0,0.9)(35.4,1.4)(35.9,1.7)(36.7,1.9)(37.7,1.98)(40.3,2.0)(40.3,0)(41.95,0)(42.25,0.9)(42.65,1.4)(43.15,1.7)(43.95,1.9)(44.95,1.98)(47.55,2.0)(47.55,0)(49.2,0)(49.5,0.9)(50,1.35)};
\addplot[cpurple, forget plot] coordinates {(0,0)(4.05,0)(4.5,2.6)(4.9,4.0)(5.3,5.0)(5.7,5.7)(5.7,0)(11.3,0)(11.75,2.6)(12.15,4.0)(12.55,5.0)(12.95,5.7)(12.95,0)(18.55,0)(19.0,2.6)(19.4,4.0)(19.8,5.0)(20.2,5.7)(20.2,0)(25.8,0)(26.25,2.6)(26.65,4.0)(27.05,5.0)(27.45,5.7)(27.45,0)(33.05,0)(33.5,2.6)(33.9,4.0)(34.3,5.0)(34.7,5.7)(34.7,0)(40.3,0)(40.75,2.6)(41.15,4.0)(41.55,5.0)(41.95,5.7)(41.95,0)(47.55,0)(48.0,2.6)(48.4,4.0)(48.8,5.0)(49.2,5.7)(49.2,0)(50,0)};
\LP\addlegendentry{\textit{x}}
\LOb\addlegendentry{\textit{y}}
\end{axis}

\begin{axis}[tsbot, at={(352pt,-1114pt)}, width=223pt, height=113pt, ymin=-0.25, ymax=3.25, xtick={0,50}, yl=-0.099, xl=-0.227,
  legend style={at={(0.969,0.947)},anchor=north east}]
\addplot[const plot, cpurple, forget plot] coordinates {(0,2)(1.7,1)(4.05,0)(5.7,1)(6.55,2)(8.95,1)(11.3,0)(12.95,1)(13.8,2)(16.2,1)(18.55,0)(20.2,1)(21.05,2)(23.45,1)(25.8,0)(27.45,1)(28.3,2)(30.7,1)(33.05,0)(34.7,1)(35.55,2)(37.95,1)(40.3,0)(41.95,1)(42.8,2)(45.2,1)(47.55,0)(49.2,1)(49.8,2)(50,2)};
\addplot[corangeb, forget plot] coordinates {(0,0)(50,0)};
\LP\addlegendentry{\textit{s}\textsubscript{X}}
\LOb\addlegendentry{\textit{s}\textsubscript{Y}}
\end{axis}

% ================= (e) =================
\begin{axis}[base, at={(82pt,-1300pt)}, width=216pt, height=168pt, xmin=0, xmax=15.6, ymin=0, ymax=0.3,
  xtick={0,5,10,15}, ytick={0.15,0.3}, yticklabels={0.15,0.30},
  xlabel={period}, ylabel={probability density}, yl=-0.204, xl=-0.19,
  title={ATC}, title style={yshift=2pt},
  legend style={at={(0.972,0.964)},anchor=north east, row sep=0pt, inner xsep=3pt, inner ysep=2pt, /tikz/every odd column/.append style={column sep=2pt}}]
\addplot[ybar, bar width=0.25, bar shift=0pt, fill=horange, draw=none, forget plot] coordinates {(0.125,0.012)(0.625,0.039)(1.125,0.075)(1.625,0.129)(2.125,0.188)(2.625,0.213)(3.125,0.209)(3.625,0.181)(4.125,0.154)(4.625,0.128)(5.125,0.104)(5.625,0.089)(6.125,0.071)(6.625,0.058)(7.125,0.047)(7.625,0.039)(8.125,0.031)(8.625,0.026)(9.125,0.021)(9.625,0.017)(10.125,0.014)(10.625,0.012)(11.125,0.010)(11.625,0.008)(12.125,0.007)(12.625,0.006)(13.125,0.005)(13.625,0.004)(14.125,0.003)(14.625,0.003)};
\addplot[ybar, bar width=0.25, bar shift=0pt, fill=hpurple, draw=none, forget plot] coordinates {(0.375,0.010)(0.875,0.038)(1.375,0.074)(1.875,0.133)(2.375,0.188)(2.875,0.215)(3.375,0.206)(3.875,0.178)(4.375,0.151)(4.875,0.128)(5.375,0.104)(5.875,0.087)(6.375,0.069)(6.875,0.056)(7.375,0.046)(7.875,0.037)(8.375,0.030)(8.875,0.024)(9.375,0.020)(9.875,0.016)(10.375,0.013)(10.875,0.011)(11.375,0.009)(11.875,0.008)(12.375,0.006)(12.875,0.005)(13.375,0.004)(13.875,0.004)(14.375,0.003)(14.875,0.002)};
\addplot[only marks, mark=*, mark size=2.3pt, black, forget plot] coordinates {(0.25,0.006)(0.75,0.022)(1.25,0.052)(1.75,0.116)(2.25,0.205)(2.75,0.252)(3.25,0.248)(3.75,0.218)(4.25,0.178)(4.75,0.142)(5.25,0.111)(5.75,0.086)(6.25,0.068)(6.75,0.055)(7.25,0.040)(7.75,0.031)(8.25,0.025)(8.75,0.020)(9.25,0.015)(9.75,0.012)(10.25,0.009)(10.75,0.008)(11.25,0.006)(11.75,0.005)(12.25,0.004)(12.75,0.004)(13.25,0.003)(13.75,0.002)(14.25,0.002)(14.75,0.002)};
\addlegendimage{legend image code/.code={\fill[hpurple] (0pt,-4pt) rectangle (24pt,4pt);}}\addlegendentry{full CME}
\addlegendimage{legend image code/.code={\fill[horange] (0pt,-4pt) rectangle (24pt,4pt);}}\addlegendentry{PDMP}
\addlegendimage{legend image code/.code={\fill (3pt,0pt) circle (2.3pt); \fill (12pt,0pt) circle (2.3pt); \fill (21pt,0pt) circle (2.3pt);}}\addlegendentry{linear PDMP}
\end{axis}

\begin{axis}[base, at={(359pt,-1300pt)}, width=216pt, height=168pt, xmin=0, xmax=15.4, ymin=0, ymax=0.2,
  xtick={0,5,10,15}, ytick={0.1,0.2}, yticklabels={0.1,0.2},
  xlabel={period}, ylabel={probability density}, yl=-0.144, xl=-0.19,
  title={RTC}, title style={yshift=2pt},
  legend style={at={(0.977,0.964)},anchor=north east, row sep=0pt, inner xsep=3pt, inner ysep=2pt, /tikz/every odd column/.append style={column sep=2pt}}]
\addplot[ybar, bar width=0.25, bar shift=0pt, fill=horange, draw=none, forget plot] coordinates {(0.125,0.026)(0.625,0.097)(1.125,0.150)(1.625,0.167)(2.125,0.161)(2.625,0.153)(3.125,0.137)(3.625,0.121)(4.125,0.113)(4.625,0.098)(5.125,0.087)(5.625,0.077)(6.125,0.071)(6.625,0.063)(7.125,0.055)(7.625,0.048)(8.125,0.043)(8.625,0.038)(9.125,0.032)(9.625,0.028)(10.125,0.025)(10.625,0.022)(11.125,0.019)(11.625,0.016)(12.125,0.014)(12.625,0.013)(13.125,0.011)(13.625,0.010)(14.125,0.008)(14.625,0.008)};
\addplot[ybar, bar width=0.25, bar shift=0pt, fill=hpurple, draw=none, forget plot] coordinates {(0.375,0.025)(0.875,0.096)(1.375,0.153)(1.875,0.170)(2.375,0.165)(2.875,0.150)(3.375,0.135)(3.875,0.120)(4.375,0.108)(4.875,0.095)(5.375,0.084)(5.875,0.075)(6.375,0.069)(6.875,0.061)(7.375,0.054)(7.875,0.047)(8.375,0.042)(8.875,0.037)(9.375,0.033)(9.875,0.027)(10.375,0.024)(10.875,0.021)(11.375,0.018)(11.875,0.015)(12.375,0.014)(12.875,0.012)(13.375,0.010)(13.875,0.009)(14.375,0.008)(14.875,0.007)};
\addplot[only marks, mark=*, mark size=2.3pt, black, forget plot] coordinates {(0.25,0.017)(0.75,0.078)(1.25,0.129)(1.75,0.140)(2.25,0.136)(2.75,0.122)(3.25,0.112)(3.75,0.103)(4.25,0.098)(4.75,0.092)(5.25,0.086)(5.75,0.082)(6.25,0.075)(6.75,0.075)(7.25,0.066)(7.75,0.059)(8.25,0.055)(8.75,0.048)(9.25,0.043)(9.75,0.039)(10.25,0.034)(10.75,0.031)(11.25,0.027)(11.75,0.024)(12.25,0.022)(12.75,0.018)(13.25,0.016)(13.75,0.014)(14.25,0.012)(14.75,0.011)};
\addlegendimage{legend image code/.code={\fill[hpurple] (0pt,-4pt) rectangle (24pt,4pt);}}\addlegendentry{full CME}
\addlegendimage{legend image code/.code={\fill[horange] (0pt,-4pt) rectangle (24pt,4pt);}}\addlegendentry{PDMP}
\addlegendimage{legend image code/.code={\fill (3pt,0pt) circle (2.3pt); \fill (12pt,0pt) circle (2.3pt); \fill (21pt,0pt) circle (2.3pt);}}\addlegendentry{linear PDMP}
\end{axis}

% panel labels
\node[font=\fontsize{20}{22}\selectfont] at (15pt,-18pt) {\textit{(a)}};
\node[font=\fontsize{20}{22}\selectfont] at (15pt,-336pt) {\textit{(b)}};
\node[font=\fontsize{20}{22}\selectfont] at (15pt,-659pt) {\textit{(c)}};
\node[font=\fontsize{20}{22}\selectfont] at (15pt,-979pt) {\textit{(d)}};
\node[font=\fontsize{20}{22}\selectfont] at (15pt,-1291pt) {\textit{(e)}};

\pgfresetboundingbox
\useasboundingbox (0pt,0pt) rectangle (584pt,-1506pt);
\end{tikzpicture}
\end{document}
